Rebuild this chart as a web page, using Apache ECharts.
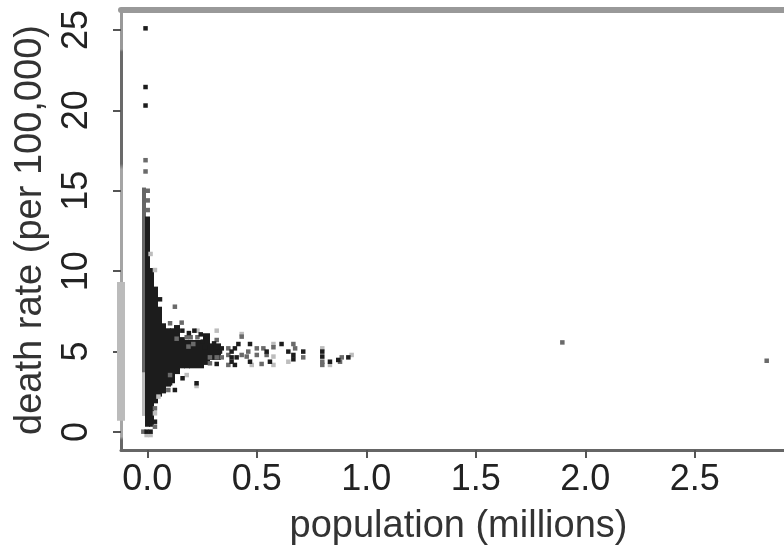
<!DOCTYPE html>
<html>
<head>
<meta charset="utf-8">
<style>
  html, body { margin: 0; background: #fff; }
  #chart { width: 784px; height: 546px; filter: blur(0.7px); }
</style>
<script src="https://cdn.jsdelivr.net/npm/echarts@6/dist/echarts.min.js"></script>
</head>
<body>
<div id="chart"></div>
<script>
// Axis ticks
const xTicks = [0, 0.5, 1, 1.5, 2, 2.5];
const yTicks = [0, 5, 10, 15, 20, 25];

// Solid body of the cloud, read as columns: each one spans its edge to the next edge
const massEdges = [-0.006, 0.01, 0.028, 0.046, 0.066, 0.081, 0.104, 0.126, 0.149, 0.172, 0.195, 0.256, 0.286, 0.332];
const massLow = [0.33, 0.33, 1.78, 2.2, 2.4, 2.82, 3.03, 3.6, 3.96, 3.96, 3.96, 4.17, 4.48];
const massHigh = [13.4, 10.2, 9.04, 7.79, 6.76, 6.45, 6.45, 6.65, 5.9, 5.72, 5.72, 6.14, 5.51];

// Softer strip along the left of the cloud
const stripEdges = [-0.024, -0.006];
const stripDarkLow = [3.7];
const stripDarkHigh = [15.2];
const stripLightLow = [1.0];
const stripLightHigh = [3.7];

// Pale band printed beside the lower part of the left axis
const bandEdges = [-0.134, -0.102];
const bandLow = [0.7];
const bandHigh = [9.33];

// Separate points, by how dark they print
const blackPoints = [
  [-0.008, 25.1], [-0.008, 21.45], [-0.008, 20.3], [0.058, 8.25], [0.244, 6.07], [0.271, 5.93],
  [0.305, 5.51], [0.253, 5.62], [0.263, 5.27], [0.314, 5.27], [0.34, 5.2], [0.332, 5.0],
  [0.4, 5.2], [0.385, 5.0], [0.416, 5.47], [0.469, 5.47], [0.545, 5.0], [0.408, 4.64],
  [0.385, 4.64], [0.4, 4.17], [0.385, 4.37], [0.469, 4.37], [0.56, 4.37], [0.317, 4.23],
  [0.613, 5.47], [0.644, 5.0], [0.667, 4.79], [0.667, 4.52], [0.712, 5.0], [0.799, 5.0],
  [0.799, 4.69], [0.834, 4.37], [0.872, 4.48], [0.918, 4.64], [0.161, 3.34], [0.104, 3.03],
  [0.126, 2.61], [0.225, 3.03], [0.035, 0.64], [-0.003, 0.02], [0.015, 0.02],
  [0.16, 6.3], [0.19, 6.15], [0.215, 6.3]
];
const grayPoints = [
  [-0.008, 16.9], [-0.008, 16.2], [0.002, 15.0], [0.002, 14.4], [0.002, 13.8], [0.126, 7.79],
  [0.104, 6.76], [0.157, 6.8], [0.18, 5.89], [0.198, 5.89], [0.134, 5.8], [0.229, 5.89],
  [0.317, 5.72], [0.21, 5.47], [0.188, 5.31], [0.5, 5.2], [0.53, 5.2], [0.461, 5.0],
  [0.37, 5.2], [0.37, 4.79], [0.431, 5.93], [0.431, 4.79], [0.454, 4.69], [0.5, 4.79],
  [0.545, 4.79], [0.286, 4.64], [0.317, 4.64], [0.34, 4.64], [0.37, 4.17], [0.522, 4.23],
  [0.286, 4.27], [0.576, 5.27], [0.667, 5.47], [0.675, 5.2], [0.712, 4.64], [0.799, 4.37],
  [0.799, 4.17], [0.888, 4.64], [0.88, 4.37], [0.104, 3.54], [0.096, 2.61], [0.035, 1.47],
  [0.035, 0.33], [-0.018, 0.02], [1.895, 5.57], [2.828, 4.43]
];
const lightPoints = [
  [0.035, 10.07], [0.015, 11.07], [0.229, 6.3], [0.317, 6.3], [0.431, 6.09], [0.576, 5.47],
  [0.576, 4.69], [0.477, 4.17], [0.576, 4.17], [0.644, 4.37], [0.799, 5.2], [0.933, 4.79],
  [0.834, 4.17], [0.18, 3.54], [0.225, 2.86], [0.051, 2.2], [0.035, 1.16], [0.015, -0.19],
  [-0.003, -0.19]
];

const fontName = '"Liberation Sans", Arial, sans-serif';
const textColor = '#222';

// Draws one column per entry of low/high between neighbouring edges
function columnSeries(edges, low, high, color, z) {
  return {
    type: 'custom',
    z: z,
    silent: true,
    encode: { x: [0, 1], y: [2, 3] },
    data: low.map((v, i) => [edges[i], edges[i + 1], v, high[i]]),
    renderItem: (params, api) => {
      const a = api.coord([api.value(0), api.value(3)]);
      const b = api.coord([api.value(1), api.value(2)]);
      // snap to whole pixels so neighbouring columns leave no seam
      const left = Math.floor(a[0]);
      const right = Math.ceil(b[0]);
      return {
        type: 'rect',
        shape: { x: left, y: a[1], width: right - left, height: b[1] - a[1] },
        style: { fill: color }
      };
    }
  };
}

function pointSeries(data, color, z) {
  return {
    type: 'scatter',
    z: z,
    silent: true,
    symbol: 'rect',
    symbolSize: 4.5,
    itemStyle: { color: color, opacity: 1 },
    data: data
  };
}

const chart = echarts.init(document.getElementById('chart'));

chart.setOption({
  animation: false,
  backgroundColor: '#fff',
  grid: { left: 121, right: 0, top: 10, bottom: 96, outerBoundsMode: 'none' },
  xAxis: [
    {
      type: 'value',
      min: -0.12,
      max: 2.907,
      position: 'bottom',
      splitLine: { show: false },
      axisLine: { onZero: false, lineStyle: { color: '#666', width: 3 } },
      axisTick: { customValues: xTicks, length: 8, lineStyle: { color: '#555', width: 2 } },
      axisLabel: {
        customValues: xTicks,
        formatter: v => v.toFixed(1),
        color: textColor,
        fontFamily: fontName,
        fontSize: 36,
        margin: 12
      },
      name: 'population (millions)',
      nameLocation: 'middle',
      nameGap: 58,
      nameTextStyle: { color: '#333', fontFamily: fontName, fontSize: 38, padding: [0, 0, 0, 12] }
    },
    {
      // plain rule along the top of the frame
      type: 'value',
      min: -0.12,
      max: 2.907,
      position: 'top',
      splitLine: { show: false },
      axisLine: { onZero: false, lineStyle: { color: '#999', width: 6 } },
      axisTick: { show: false },
      axisLabel: { show: false }
    }
  ],
  yAxis: {
    type: 'value',
    min: -1.12,
    max: 26.24,
    splitLine: { show: false },
    axisLine: {
      onZero: false,
      lineStyle: {
        width: 3,
        color: {
          type: 'linear', x: 0, y: 0, x2: 0, y2: 546, global: true,
          colorStops: [
            { offset: 0, color: '#999' },
            { offset: 0.09, color: '#999' },
            { offset: 0.095, color: '#6a6a6a' },
            { offset: 0.3, color: '#6a6a6a' },
            { offset: 0.31, color: '#a5a5a5' },
            { offset: 0.8, color: '#a5a5a5' },
            { offset: 0.806, color: '#666' },
            { offset: 1, color: '#666' }
          ]
        }
      }
    },
    axisTick: { customValues: yTicks, length: 8, lineStyle: { color: '#555', width: 2 } },
    axisLabel: {
      customValues: yTicks,
      rotate: 90,
      color: textColor,
      fontFamily: fontName,
      fontSize: 36,
      margin: 26
    },
    name: 'death rate (per 100,000)',
    nameLocation: 'middle',
    nameGap: 71,
    nameRotate: 90,
    nameTextStyle: { color: '#333', fontFamily: fontName, fontSize: 38 }
  },
  series: [
    columnSeries(bandEdges, bandLow, bandHigh, '#bbb', 1),
    columnSeries(stripEdges, stripLightLow, stripLightHigh, '#bbb', 1),
    columnSeries(stripEdges, stripDarkLow, stripDarkHigh, '#666', 2),
    columnSeries(massEdges, massLow, massHigh, '#1c1c1c', 3),
    pointSeries(lightPoints, '#bdbdbd', 4),
    pointSeries(grayPoints, '#6a6a6a', 5),
    pointSeries(blackPoints, '#1c1c1c', 6)
  ]
});
</script>
</body>
</html>
